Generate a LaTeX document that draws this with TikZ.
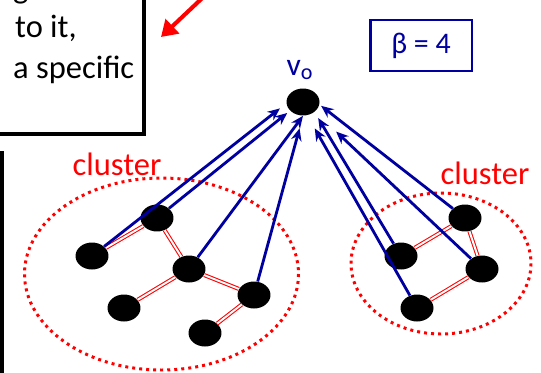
\documentclass[tikz,border=0pt]{standalone}
\usepackage{fontspec}
\setmainfont{Carlito}
\usepackage{xcolor}
\usetikzlibrary{shapes.geometric, arrows.meta}
\definecolor{navy}{HTML}{0000A0}

\begin{document}
\begin{tikzpicture}[x=0.02cm, y=-0.02cm,
            vertex/.style={
                ellipse,
                fill=black,
                minimum width=0.66cm,
                minimum height=0.54cm,
                inner sep=0pt
            },
            link/.style={draw=red, double=white, line width=0.6pt, double distance=1.1pt},
            toroot/.style={draw=navy, line width=1.6pt, -{Stealth[length=7pt,width=6pt]}},
            cluster/.style={draw=red, line width=1.7pt, dash pattern=on 1.7pt off 2.3pt},
            clusterlabel/.style={text=red, font=\fontsize{18.5}{22}\selectfont},
            boxtext/.style={anchor=base west, font=\fontsize{18.5}{22}\selectfont}
        ]
        \clip (0,0) rectangle (541,372);

        % boxes cut by the border
        \draw[line width=2pt] (-60,-60) rectangle (144,134);
        \node[boxtext] (txtg)    at (7,-2)  {g};
        \node[boxtext] (txtto)   at (9,37)  {to it,};
        \node[boxtext] (txtspec) at (7,78)  {a specific};
        \draw[line width=2pt] (-60,153) rectangle (2,420);

        \coordinate (redtail) at (214,-13);
        \coordinate (redtip)  at (161,37);
        \draw[red, line width=2.3pt, -{Triangle[length=9pt,width=11pt]}] (redtail) -- (redtip);

        % root and beta
        \node[vertex] (vo) at (303,102) {};
        \node[text=navy, font=\fontsize{18}{22}\selectfont] (volabel) at (300,70) {v\textsubscript{o}};
        \node[draw=navy, line width=1.7pt, text=navy, minimum width=2.04cm, minimum height=1.02cm,
              font=\fontsize{17}{20}\selectfont] (beta) at (421,45.5) {β = 4};

        % clusters
        \draw[cluster] (161.5,274) ellipse [x radius=137, y radius=96];
        \draw[cluster] (441,263.5) ellipse [x radius=90, y radius=70.5];
        \node[clusterlabel] (lclabel) at (117,164) {cluster};
        \node[clusterlabel] (rclabel) at (485,173) {cluster};

        % left cluster
        \node[vertex] (a) at (92,256)  {};
        \node[vertex] (b) at (157,218) {};
        \node[vertex] (c) at (189,269) {};
        \node[vertex] (d) at (124,308) {};
        \node[vertex] (e) at (254,295) {};
        \node[vertex] (f) at (205,333) {};

        % right cluster
        \node[vertex] (g) at (465,218) {};
        \node[vertex] (h) at (401,256) {};
        \node[vertex] (i) at (482,269) {};
        \node[vertex] (j) at (417,308) {};

        \draw[link] (a) -- (b);
        \draw[link] (b) -- (c);
        \draw[link] (c) -- (d);
        \draw[link] (c) -- (e);
        \draw[link] (e) -- (f);
        \draw[link] (h) -- (g);
        \draw[link] (g) -- (i);
        \draw[link] (i) -- (j);

        \draw[toroot, shorten >=0.16cm] (a) -- (vo.185);
        \draw[toroot, shorten >=0.07cm] (b) -- (vo.214);
        \draw[toroot] (c) -- (vo.south);
        \draw[toroot, shorten >=0.26cm] (e) -- (vo.south);
        \draw[toroot, shorten >=0.30cm] (j) -- (vo.-72);
        \draw[toroot, shorten >=0.14cm] (h) -- (vo.-41);
        \draw[toroot, shorten >=0.58cm] (i) -- (vo.-39);
        \draw[toroot, shorten >=0.04cm] (g) -- (vo.-9);
\end{tikzpicture}
\end{document}
